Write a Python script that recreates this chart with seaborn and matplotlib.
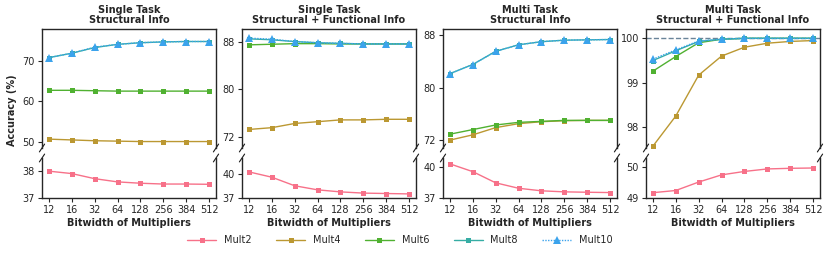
import numpy as np
import pandas as pd
import seaborn as sns
import matplotlib.pyplot as plt

sns.set_theme(style="ticks")
plt.rcParams['font.family'] = ['DejaVu Sans']

bitwidths = ["12", "16", "32", "64", "128", "256", "384", "512"]
series = ["Mult2", "Mult4", "Mult6", "Mult8", "Mult10"]
titles = ["Single Task\nStructural Info",
          "Single Task\nStructural + Functional Info",
          "Multi Task\nStructural Info",
          "Multi Task\nStructural + Functional Info"]

# panel 1: single task, structural
p1_mult2 = [38.0, 37.91, 37.72, 37.6, 37.55, 37.52, 37.52, 37.51]
p1_mult4 = [50.6, 50.4, 50.2, 50.1, 50.0, 50.0, 50.0, 50.0]
p1_mult6 = [62.7, 62.7, 62.6, 62.5, 62.5, 62.5, 62.5, 62.5]
p1_mult8 = [70.8, 71.9, 73.3, 74.1, 74.5, 74.7, 74.8, 74.8]
p1_mult10 = [70.8, 71.9, 73.4, 74.1, 74.5, 74.7, 74.8, 74.8]

# panel 2: single task, structural + functional
p2_mult2 = [40.2, 39.55, 38.5, 38.0, 37.75, 37.6, 37.55, 37.5]
p2_mult4 = [73.3, 73.6, 74.3, 74.6, 74.9, 74.9, 75.0, 75.0]
p2_mult6 = [87.45, 87.55, 87.65, 87.65, 87.6, 87.6, 87.6, 87.6]
p2_mult8 = [88.45, 88.3, 88.0, 87.8, 87.7, 87.6, 87.6, 87.6]
p2_mult10 = [88.57, 88.4, 88.0, 87.8, 87.7, 87.6, 87.6, 87.6]

# panel 3: multi task, structural
p3_mult2 = [40.33, 39.57, 38.48, 37.95, 37.7, 37.6, 37.56, 37.53]
p3_mult4 = [72.0, 72.8, 73.9, 74.5, 74.8, 74.95, 75.0, 75.0]
p3_mult6 = [72.9, 73.6, 74.3, 74.7, 74.85, 75.0, 75.0, 75.0]
p3_mult8 = [82.1, 83.5, 85.5, 86.5, 86.97, 87.2, 87.25, 87.3]
p3_mult10 = [82.1, 83.5, 85.5, 86.5, 86.97, 87.2, 87.25, 87.3]

# panel 4: multi task, structural + functional
p4_mult2 = [49.17, 49.24, 49.51, 49.74, 49.85, 49.93, 49.95, 49.96]
p4_mult4 = [97.57, 98.25, 99.17, 99.6, 99.8, 99.89, 99.93, 99.95]
p4_mult6 = [99.26, 99.59, 99.9, 99.98, 100.0, 100.0, 100.0, 100.0]
p4_mult8 = [99.5, 99.72, 99.93, 99.98, 100.0, 100.0, 100.0, 100.0]
p4_mult10 = [99.53, 99.74, 99.94, 99.98, 100.0, 100.0, 100.0, 100.0]

panels = [
    [p1_mult2, p1_mult4, p1_mult6, p1_mult8, p1_mult10],
    [p2_mult2, p2_mult4, p2_mult6, p2_mult8, p2_mult10],
    [p3_mult2, p3_mult4, p3_mult6, p3_mult8, p3_mult10],
    [p4_mult2, p4_mult4, p4_mult6, p4_mult8, p4_mult10],
]

top_lims = [(48.4, 77.9), (70.2, 90.1), (70.8, 88.9), (97.53, 100.21)]
bot_lims = [(37, 38.49), (37, 41.9), (37, 40.9), (49, 50.28)]
top_ticks = [[50, 60, 70], [72, 80, 88], [72, 80, 88], [98, 99, 100]]
bot_ticks = [[37, 38], [37, 40], [37, 40], [49, 50]]

palette = dict(zip(series, sns.color_palette("husl", 6)[:5]))
markers = {"Mult2": "s", "Mult4": "s", "Mult6": "s", "Mult8": "s", "Mult10": "^"}
dashes = {"Mult2": "", "Mult4": "", "Mult6": "", "Mult8": "", "Mult10": (1, 1)}

fig = plt.figure(figsize=(8.31, 2.56), dpi=100)
W, H = 831, 256
lefts = [42, 242, 443, 646]
width = 174

def frac_box(left, top, w, h):
    return [left / W, 1 - (top + h) / H, w / W, h / H]

fs = 7
tri = 5.2
for i, vals in enumerate(panels):
    ax_top = fig.add_axes(frac_box(lefts[i], 29, width, 119))
    ax_bot = fig.add_axes(frac_box(lefts[i], 158, width, 40))
    rows = []
    for name, v in zip(series, vals):
        for j, y in enumerate(v):
            rows.append({"x": j, "acc": y, "model": name})
    df = pd.DataFrame(rows)
    for ax in (ax_top, ax_bot):
        sns.lineplot(data=df, x="x", y="acc", hue="model", style="model",
                     palette=palette, markers=markers, dashes=dashes,
                     markersize=3.6, markeredgewidth=0, linewidth=1,
                     ax=ax, legend=(i == 0 and ax is ax_top))
        for ln in ax.lines:
            if ln.get_marker() == "^":
                ln.set_markersize(tri)
        ax.set_xlim(-0.3, 7.3)
        ax.set_xlabel("")
        ax.set_ylabel("")
        for s in ax.spines.values():
            s.set_linewidth(1.0)
        ax.tick_params(labelsize=fs, length=3, width=0.8, pad=2)
    if i == 3:
        ax_top.axhline(100, color="#6a8499", ls="--", lw=1, zorder=0)
    ax_top.set_ylim(*top_lims[i])
    ax_bot.set_ylim(*bot_lims[i])
    ax_top.set_yticks(top_ticks[i])
    ax_bot.set_yticks(bot_ticks[i])
    ax_top.spines["bottom"].set_visible(False)
    ax_bot.spines["top"].set_visible(False)
    ax_top.tick_params(axis="x", bottom=False, labelbottom=False)
    ax_bot.set_xticks(range(len(bitwidths)))
    ax_bot.set_xticklabels(bitwidths)
    ax_bot.set_xlabel("Bitwidth of Multipliers", fontsize=fs, fontweight="bold", labelpad=2)
    ax_top.set_title(titles[i], fontsize=fs, fontweight="bold", pad=4, linespacing=1.0)

    # break marks
    d = 0.015
    kw = dict(color="k", clip_on=False, lw=0.8)
    dy_t = d * 174 / 119 * 1.5
    dy_b = d * 174 / 40 * 1.5
    for xx in (0, 1):
        ax_top.plot((xx - d, xx + d), (-dy_t, dy_t), transform=ax_top.transAxes, **kw)
        ax_bot.plot((xx - d, xx + d), (1 - dy_b, 1 + dy_b), transform=ax_bot.transAxes, **kw)

    if i == 0:
        handles, labels = ax_top.get_legend_handles_labels()
        ax_top.get_legend().remove()
        fig.text(12 / W, 1 - 110 / H, "Accuracy (%)", rotation=90, fontsize=fs,
                 fontweight="bold", ha="center", va="center")

for h in handles:
    if h.get_marker() == "^":
        h.set_markersize(tri)
fig.legend(handles, labels, loc="center", bbox_to_anchor=(400 / W, 1 - 240 / H),
           ncol=5, frameon=False, fontsize=fs, handlelength=3, columnspacing=2.5)

fig.savefig("out.png", dpi=100)
